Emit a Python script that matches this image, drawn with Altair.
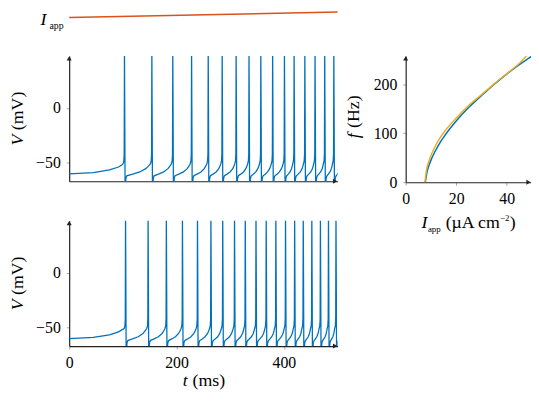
import altair as alt
import pandas as pd

FONT = "Liberation Serif, DejaVu Serif, serif"
BLUE = "#0072BD"
YELLOW = "#EDB120"
RED = "#D95319"
AXIS = "#222222"

# applied-current ramp (top strip)
iapp_t = [0, 500]
iapp_val = [0, 50]

# spike times (ms)
spikes_top = [103, 154, 193, 228, 259, 285, 311, 335, 357, 379, 401, 419, 439, 458, 476, 493]
spikes_bottom = [105, 147, 181, 211, 239, 264, 286, 308, 328, 348, 367, 385, 403, 420, 436, 452, 468, 483, 497]

# membrane potential before the first spike (ms, mV)
rest_t = [0, 45, 75, 92, 98]
rest_v = [-60.3, -59.1, -56.7, -54.0, -52.2]
# waveform pieces
post_dt = [0.0, 0.5, 1.1, 1.8, 2.8, 4.2]
post_v = [52, 0, -70, -70, -64, -62]
ramp_frac = [0.25, 0.55, 0.8, 0.92]
ramp_v = [-60.5, -58.5, -55.5, -53.0]
pre_dt = [-2.5, -1.2, -0.5]
pre_v = [-51.0, -48.5, -42.0]

# f-I curves
fi_blue_I = [7.8, 8.5, 9.2, 10.5, 13, 15.7, 20, 25, 30, 35, 40, 45, 50]
fi_blue_f = [0, 22, 34, 51, 76, 97, 125, 153, 177, 200, 221, 240, 258]
fi_yellow_I = [7.6, 8.3, 9, 10.2, 12.8, 15.4, 20, 25, 30, 35, 40, 45, 48.5]
fi_yellow_f = [0, 27, 40, 57, 84, 104, 131, 157, 179, 201, 222, 243, 262]

V_TICKS = [-50, 0]
T_TICKS = [0, 200, 400]
FI_X_TICKS = [0, 20, 40]
FI_Y_TICKS = [0, 100, 200]


def voltage_trace(spikes):
    t, v = list(rest_t), list(rest_v)
    for k, ts in enumerate(spikes):
        t += [ts + d for d in pre_dt]
        v += pre_v
        t += [ts + d for d in post_dt]
        v += post_v
        isi = spikes[k + 1] - ts if k + 1 < len(spikes) else ts - spikes[k - 1]
        start = ts + post_dt[-1]
        stop = ts + isi + pre_dt[0]
        t += [start + f * (stop - start) for f in ramp_frac]
        v += ramp_v
    return pd.DataFrame({"t": t, "V": v})


one = pd.DataFrame({"a": [0]})

W, H = 272, 127
FW, FH = 127, 128
TS = 18   # title font size
SS = 9    # sub/superscript size

ax_common = dict(domainColor=AXIS, domainWidth=1.2, tickColor="#aaaaaa", tickSize=3,
                 labelFont=FONT, labelFontSize=16, labelColor="black", labelPadding=6,
                 labelFlush=False, labelOverlap=False, grid=False)


def txt(s, x, y, size=TS, italic=False, angle=0):
    kw = dict(text=s, font=FONT, fontSize=size, color="black", align="left", baseline="alphabetic")
    if italic:
        kw["fontStyle"] = "italic"
    if angle:
        kw["angle"] = angle
    return alt.Chart(one).mark_text(**kw).encode(x=alt.value(x), y=alt.value(y))


def arrow_up():
    return alt.Chart(one).mark_point(shape="triangle-up", filled=True, size=26, color=AXIS,
                                     opacity=1).encode(x=alt.value(0), y=alt.value(2.5))


def arrow_right(w, h):
    return alt.Chart(one).mark_point(shape="triangle-right", filled=True, size=26, color=AXIS,
                                     opacity=1).encode(x=alt.value(w - 2.5), y=alt.value(h))


def blank(w, h):
    return alt.Chart(one).mark_point(size=1, opacity=0).encode(
        x=alt.value(w / 2), y=alt.value(h / 2)).properties(width=w, height=h)


t_scale = alt.Scale(domain=[0, 500], nice=False, zero=False)
v_scale = alt.Scale(domain=[-67, 47.5], nice=False, zero=False)

# top strip
iapp_df = pd.DataFrame({"t": iapp_t, "I": iapp_val})
iapp = alt.layer(
    alt.Chart(iapp_df).mark_line(color=RED, strokeWidth=1.5, strokeJoin="round", strokeCap="butt").encode(
        x=alt.X("t:Q", scale=t_scale, axis=None),
        y=alt.Y("I:Q", scale=alt.Scale(domain=[0, 63.5], nice=False, zero=False), axis=None)),
    txt("I", -29, 14.5, size=18, italic=True),
    txt("app", -20, 18.5, size=10),
).properties(width=W, height=7)


def v_panel(spikes, bottom):
    df = voltage_trace(spikes)
    if bottom:
        xa = alt.Axis(values=T_TICKS, title=None, **ax_common)
    else:
        xa = alt.Axis(labels=False, ticks=False, title=None, domainColor=AXIS, domainWidth=1.2, grid=False)
    line = alt.Chart(df).mark_line(color=BLUE, strokeWidth=1.3, clip=True).encode(
        x=alt.X("t:Q", scale=t_scale, axis=xa),
        y=alt.Y("V:Q", scale=v_scale, axis=alt.Axis(values=V_TICKS, title=None, **ax_common)))
    layers = [line,
              txt("V", -47, 90.7, italic=True, angle=270),
              txt("(mV)", -47, 75.2, angle=270),
              arrow_up(), arrow_right(W, H)]
    if bottom:
        layers += [txt("t", 115, 167, italic=True), txt("(ms)", 125, 167)]
    return alt.layer(*layers).properties(width=W, height=H)


topV = v_panel(spikes_top, False)
botV = v_panel(spikes_bottom, True)

fi_x = alt.Scale(domain=[0, 49.6], nice=False, zero=False)
fi_y = alt.Scale(domain=[0, 258], nice=False, zero=False)
blue_df = pd.DataFrame({"I": fi_blue_I, "f": fi_blue_f})
yel_df = pd.DataFrame({"I": fi_yellow_I, "f": fi_yellow_f})
X0 = 16
fi = alt.layer(
    alt.Chart(blue_df).mark_line(color=BLUE, strokeWidth=1.5, clip=True, interpolate="monotone").encode(
        x=alt.X("I:Q", scale=fi_x, axis=alt.Axis(values=FI_X_TICKS, title=None, **ax_common)),
        y=alt.Y("f:Q", scale=fi_y, axis=alt.Axis(values=FI_Y_TICKS, title=None, **ax_common))),
    alt.Chart(yel_df).mark_line(color=YELLOW, strokeWidth=1.5, clip=True, interpolate="monotone").encode(
        x=alt.X("I:Q", scale=fi_x), y=alt.Y("f:Q", scale=fi_y)),
    txt("f", -47, 83.5, italic=True, angle=270),
    txt("(Hz)", -47, 73, angle=270),
    txt("I", X0, 174, italic=True),
    txt("app", X0 + 6.5, 178, size=SS),
    txt("(µA cm", X0 + 24.5, 174),
    txt("−2", X0 + 79.5, 167, size=SS),
    txt(")", X0 + 89.5, 174),
    arrow_up(), arrow_right(FW, FH),
).properties(width=FW, height=FH)

chart = alt.concat(
    iapp, blank(FW, 7),
    topV, fi,
    botV, blank(FW, H),
    columns=2, spacing={"row": 39, "column": 69}, bounds="flush", align="each",
).properties(padding={"left": 0, "top": 0, "right": 0, "bottom": 0}).configure(
    padding={"left": 0, "top": 0, "right": 0, "bottom": 0}).configure_view(stroke=None).configure_axis(grid=False)

chart.save("out.html", embed_options={"renderer": "svg", "actions": False})
